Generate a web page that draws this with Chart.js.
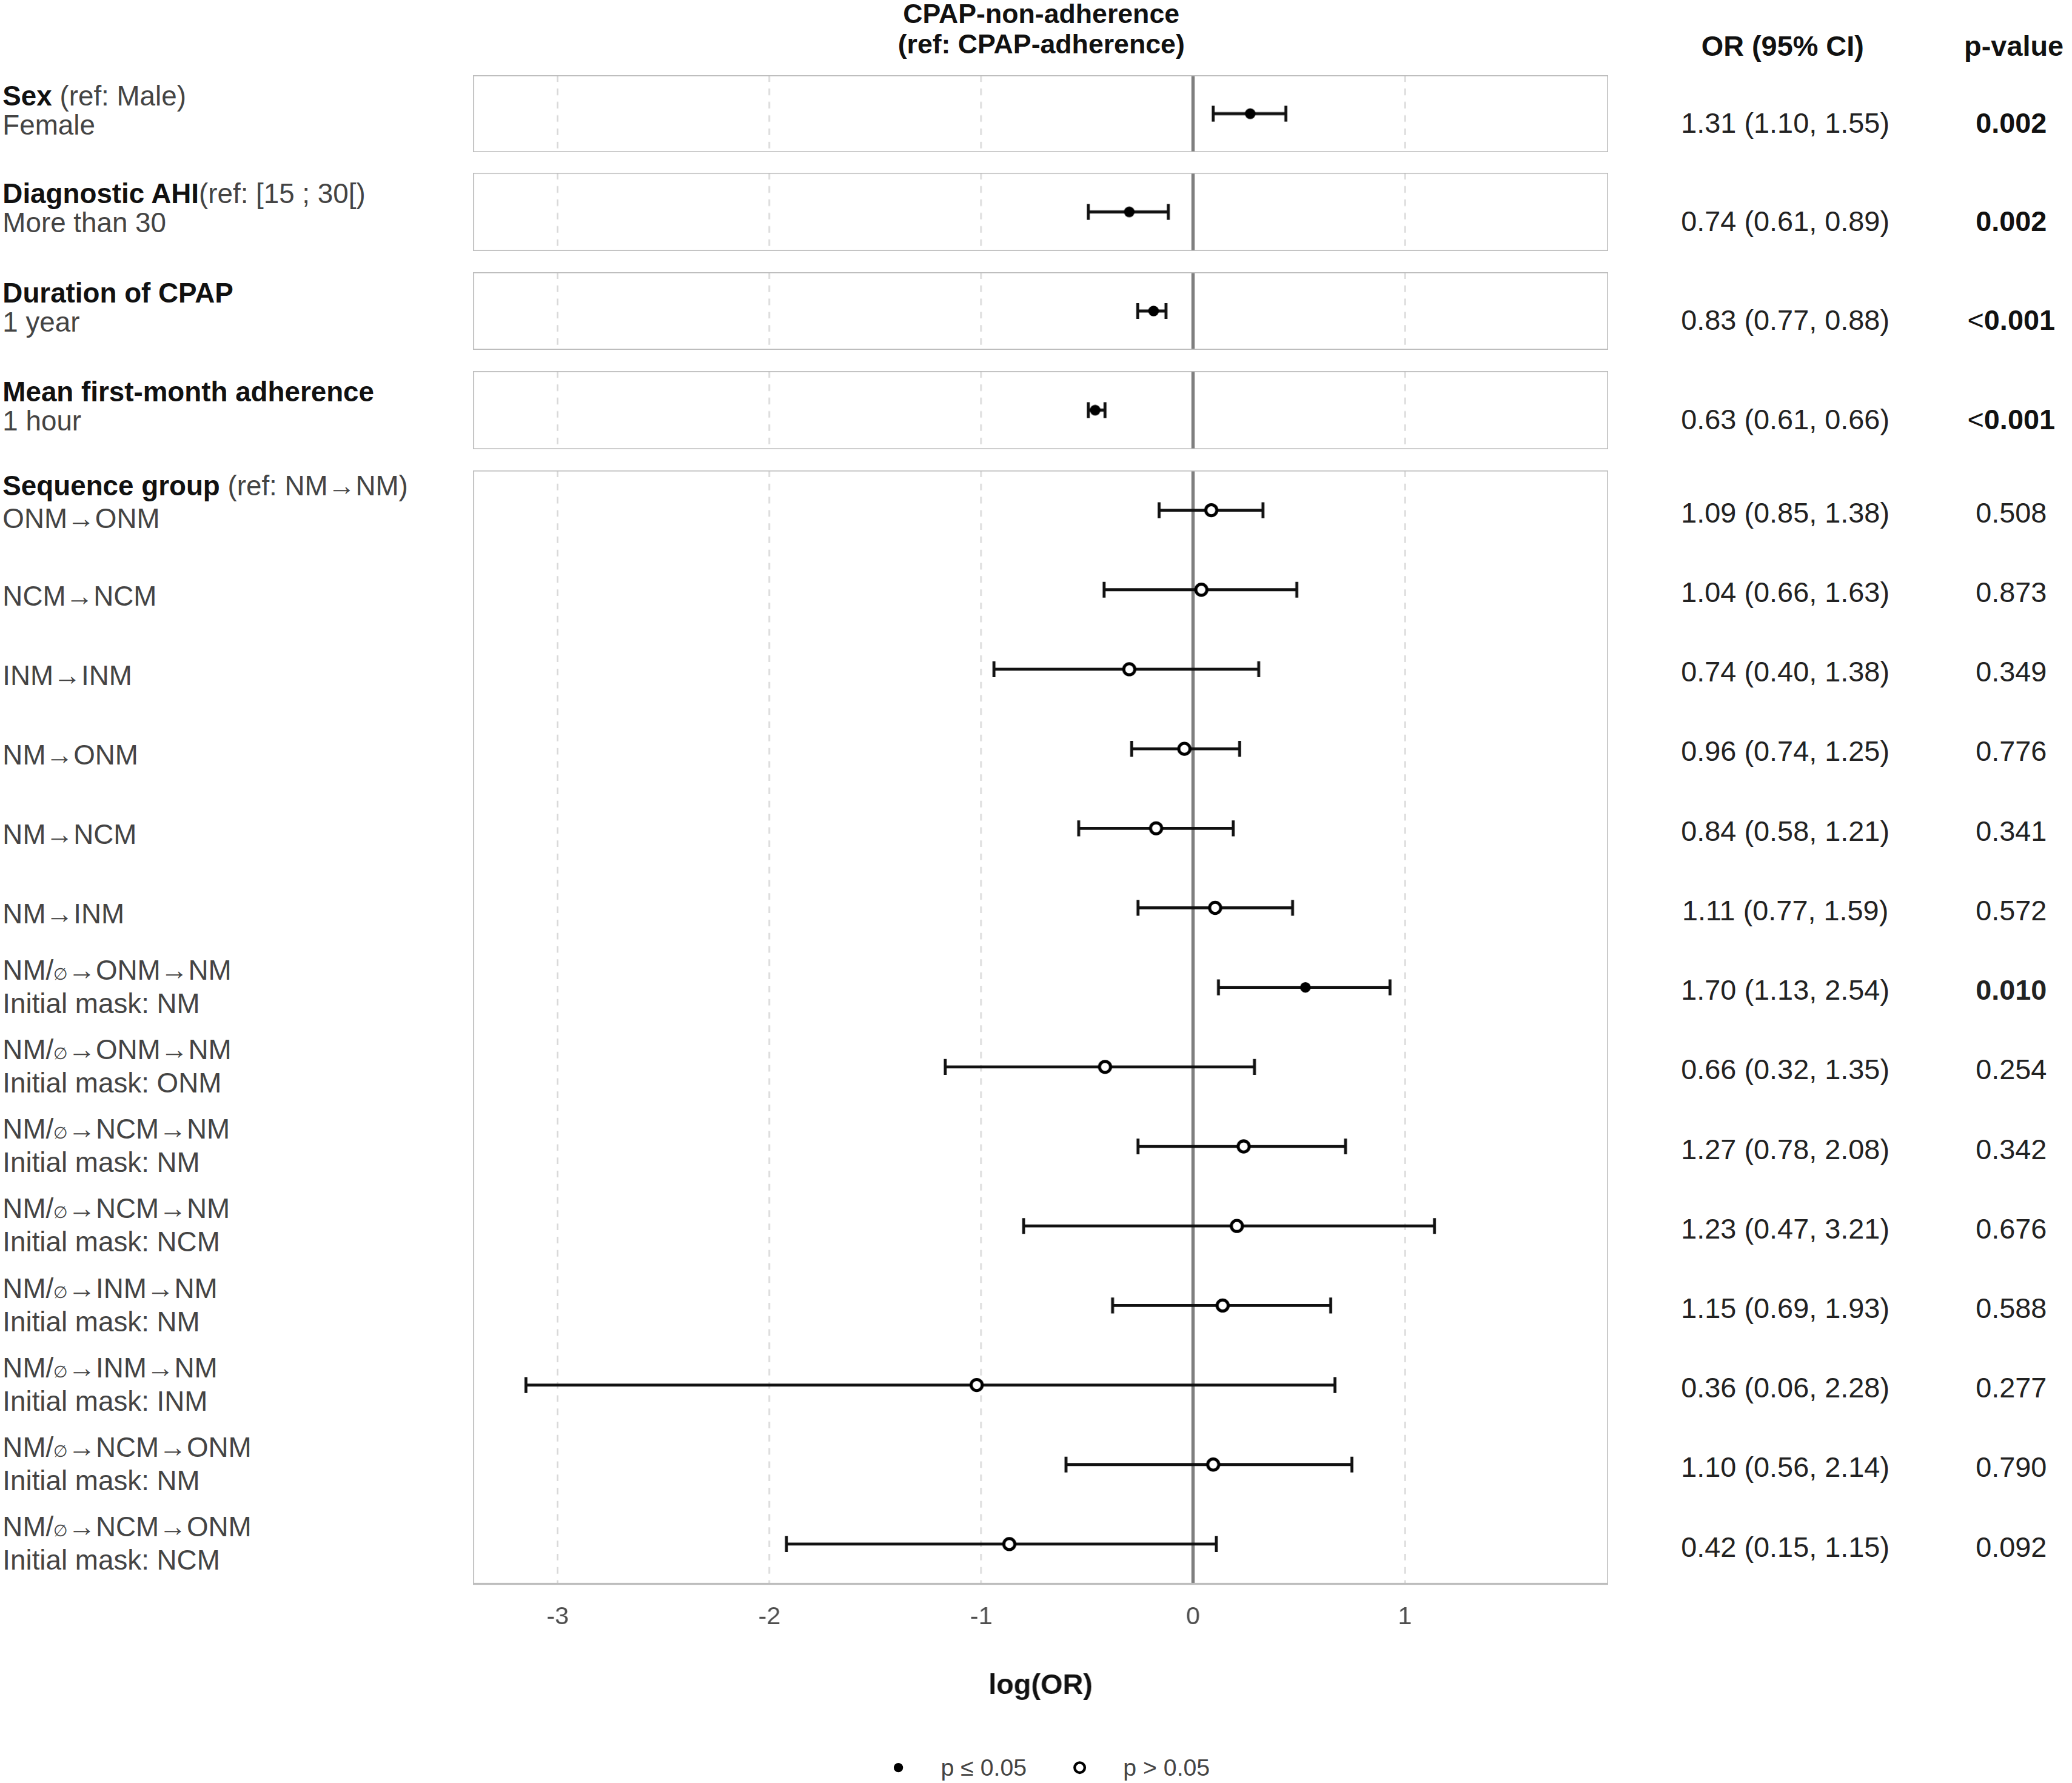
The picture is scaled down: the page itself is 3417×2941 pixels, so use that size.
<!DOCTYPE html>
<html><head><meta charset="utf-8">
<script src="https://cdn.jsdelivr.net/npm/chart.js@4"></script>
<style>
html,body{margin:0;padding:0;background:#fff;}
#root{position:relative;width:3417px;height:2941px;overflow:hidden;font-family:"Liberation Sans",Arial,sans-serif;}
.t{position:absolute;white-space:nowrap;line-height:1;color:#444;}
.b{font-weight:bold;color:#111;}
canvas{position:absolute;}
small{font-size:60%;}
</style></head><body><div id="root"></div>
<script>
const S = 3417/1568;
const FF = '"Liberation Sans", Arial, sans-serif';
// ---- data ----
const panelTitles = ['<span class="b">Sex</span> (ref: Male)','<span class="b">Diagnostic AHI</span>(ref: [15 ; 30[)','<span class="b">Duration of CPAP</span>','<span class="b">Mean first-month adherence</span>','<span class="b">Sequence group</span> (ref: NM→NM)'];
const topLevels = ['Female','More than 30','1 year',' 1 hour'];
const topOR = [1.31,0.74,0.83,0.63];
const topLo = [1.10,0.61,0.77,0.61];
const topHi = [1.55,0.89,0.88,0.66];
const topP = ['0.002','0.002','<0.001','<0.001'];
const seqLevels = ['ONM→ONM','NCM→NCM','INM→INM','NM→ONM','NM→NCM','NM→INM',
 'NM/<small>∅</small>→ONM→NM<br>Initial mask: NM','NM/<small>∅</small>→ONM→NM<br>Initial mask: ONM',
 'NM/<small>∅</small>→NCM→NM<br>Initial mask: NM','NM/<small>∅</small>→NCM→NM<br>Initial mask: NCM',
 'NM/<small>∅</small>→INM→NM<br>Initial mask: NM','NM/<small>∅</small>→INM→NM<br>Initial mask: INM',
 'NM/<small>∅</small>→NCM→ONM<br>Initial mask: NM','NM/<small>∅</small>→NCM→ONM<br>Initial mask: NCM'];
const seqOR = [1.09,1.04,0.74,0.96,0.84,1.11,1.70,0.66,1.27,1.23,1.15,0.36,1.10,0.42];
const seqLo = [0.85,0.66,0.40,0.74,0.58,0.77,1.13,0.32,0.78,0.47,0.69,0.06,0.56,0.15];
const seqHi = [1.38,1.63,1.38,1.25,1.21,1.59,2.54,1.35,2.08,3.21,1.93,2.28,2.14,1.15];
// whisker ends as drawn in the picture (log scale)
const seqLogLo = [-0.16,-0.42,-0.94,-0.29,-0.54,-0.26,0.12,-1.17,-0.26,-0.80,-0.38,-3.15,-0.60,-1.92];
const seqLogHi = [0.33,0.49,0.31,0.22,0.19,0.47,0.93,0.29,0.72,1.14,0.65,0.67,0.75,0.11];
const seqP = ['0.508','0.873','0.349','0.776','0.341','0.572','0.010','0.254','0.342','0.676','0.588','0.277','0.790','0.092'];
const xTicks = [-3,-2,-1,0,1];

const root = document.getElementById('root');
function txt(x,y,html,size,cls,align){
  const d=document.createElement('div');d.className='t '+(cls||'');d.innerHTML=html;
  d.style.fontSize=(size*S)+'px';d.style.top=(y*S)+'px';d.style.left=(x*S)+'px';
  if(align==='c'){d.style.transform='translate(-50%,-50%)';d.style.textAlign='center';}
  else{d.style.transform='translateY(-50%)';}
  root.appendChild(d);return d;
}
txt(788,22,'CPAP-non-adherence<br>(ref: CPAP-adherence)',20.5,'b','c').style.lineHeight='1.12';
txt(1349,35,'OR (95% CI)',21.5,'b','c');
txt(1524,35,'p-value',21.5,'b','c');

const fmt=v=>v.toFixed(2);
const isSig=p=>p.startsWith('<')||parseFloat(p)<=0.05;
const panelsY=[[57,115],[131,190],[206,265],[281,340],[356,1199]];

const framePlugin={id:'frame',
 beforeDatasetsDraw(c){const a=c.chartArea,x=c.scales.x,ctx=c.ctx;ctx.save();
   ctx.strokeStyle='#7f7f7f';ctx.lineWidth=2.5*S;const px=x.getPixelForValue(0);
   ctx.beginPath();ctx.moveTo(px,a.top);ctx.lineTo(px,a.bottom);ctx.stroke();
   const d=c.data.datasets[0].data;ctx.strokeStyle='#111';ctx.lineWidth=2.2*S;
   d.forEach(p=>{const y=c.scales.y.getPixelForValue(p.y),l=x.getPixelForValue(p.lo),h=x.getPixelForValue(p.hi),w=6*S;
     ctx.beginPath();ctx.moveTo(l,y);ctx.lineTo(h,y);ctx.moveTo(l,y-w);ctx.lineTo(l,y+w);ctx.moveTo(h,y-w);ctx.lineTo(h,y+w);ctx.stroke();});
   ctx.restore();},
 afterDraw(c){const a=c.chartArea,ctx=c.ctx;ctx.save();ctx.strokeStyle='#bdbdbd';ctx.lineWidth=1.5*S;
   ctx.strokeRect(a.left,a.top,a.right-a.left,a.bottom-a.top);ctx.restore();}};

function makeChart(idx,ors,lo,hi,ps,showAxis){
  const [t,b]=panelsY[idx];const extra=showAxis?92:0;
  const cv=document.createElement('canvas');
  const W=(1217-358)*S,H=(b-t+extra)*S;
  cv.width=W;cv.height=H;cv.style.left=(358*S)+'px';cv.style.top=(t*S)+'px';cv.style.width=W+'px';cv.style.height=H+'px';
  root.appendChild(cv);
  const data=ors.map((o,i)=>({x:Math.log(o),y:i,lo:lo[i],hi:hi[i]}));
  new Chart(cv,{type:'scatter',
    data:{datasets:[{data,
      pointRadius:ps.map(p=>isSig(p)?4*S:4.2*S),
      pointBackgroundColor:ps.map(p=>isSig(p)?'#000':'#fff'),
      pointBorderColor:'#000',pointBorderWidth:ps.map(p=>isSig(p)?0:2.3*S)}]},
    options:{responsive:false,animation:false,devicePixelRatio:1,layout:{padding:0,autoPadding:false},
      plugins:{legend:{display:false},tooltip:{enabled:false}},
      scales:{
        x:{type:'linear',min:-3.4,max:1.96,
          afterBuildTicks:s=>{s.ticks=xTicks.map(v=>({value:v}));},
          afterFit:s=>{s.height=extra*S;},
          border:{display:false,dash:[5*S,5*S]},
          grid:{drawTicks:false,color:ctx=>ctx.tick&&ctx.tick.value===0?'rgba(0,0,0,0)':'#d9d9d9',lineWidth:1.2*S},
          ticks:{display:showAxis,padding:14*S,color:'#4d4d4d',font:{size:19*S,family:FF}},
          title:{display:showAxis,text:'log(OR)',color:'#111',font:{size:21.5*S,weight:'bold',family:FF},padding:{top:14*S}}},
        y:{display:false,type:'linear',min:-0.5,max:ors.length-0.5,reverse:true}}},
    plugins:[framePlugin]});
}
for(let i=0;i<4;i++){
  makeChart(i,[topOR[i]],[Math.log(topLo[i])],[Math.log(topHi[i])],[topP[i]],false);
  const t=panelsY[i][0];
  txt(2,t+16,panelTitles[i],21,'','');
  txt(2,t+38,topLevels[i],21,'','');
  const cy=(panelsY[i][0]+panelsY[i][1])/2+7;
  txt(1351,cy,`${fmt(topOR[i])} (${fmt(topLo[i])}, ${fmt(topHi[i])})`,21.5,'','c').style.color='#222';
  const p=topP[i];
  txt(1522,cy,p.startsWith('<')?'&lt;<b>'+p.slice(1)+'</b>':'<b>'+p+'</b>',21.5,'','c').style.color='#111';
}
makeChart(4,seqOR,seqLogLo,seqLogHi,seqP,true);
txt(2,368,panelTitles[4],21,'','');
const rowY=i=>356+(i+0.5)*(1199-356)/14;
seqLevels.forEach((l,i)=>{
  const y=rowY(i);
  if(l.includes('<br>')){const d=txt(2,y,l,21,'','');d.style.lineHeight='1.2';}
  else txt(2,i===0?393:y+5,l,21,'','');
  txt(1351,y+2,`${fmt(seqOR[i])} (${fmt(seqLo[i])}, ${fmt(seqHi[i])})`,21.5,'','c').style.color='#222';
  const p=seqP[i];
  txt(1522,y+2,isSig(p)?'<b>'+p+'</b>':p,21.5,'','c').style.color='#222';
});
const lg=document.createElement('canvas');lg.width=40*S;lg.height=30*S;lg.style.left=(660*S)+'px';lg.style.top=(1323*S)+'px';root.appendChild(lg);
const lc=lg.getContext('2d');lc.fillStyle='#000';lc.beginPath();lc.arc(20*S,15*S,3.5*S,0,7);lc.fill();
const lg2=document.createElement('canvas');lg2.width=40*S;lg2.height=30*S;lg2.style.left=(797*S)+'px';lg2.style.top=(1323*S)+'px';root.appendChild(lg2);
const lc2=lg2.getContext('2d');lc2.strokeStyle='#000';lc2.lineWidth=2*S;lc2.beginPath();lc2.arc(20*S,15*S,3.8*S,0,7);lc2.stroke();
txt(712,1338,'p ≤ 0.05',18,'','');
txt(850,1338,'p &gt; 0.05',18,'','');
</script></body></html>
